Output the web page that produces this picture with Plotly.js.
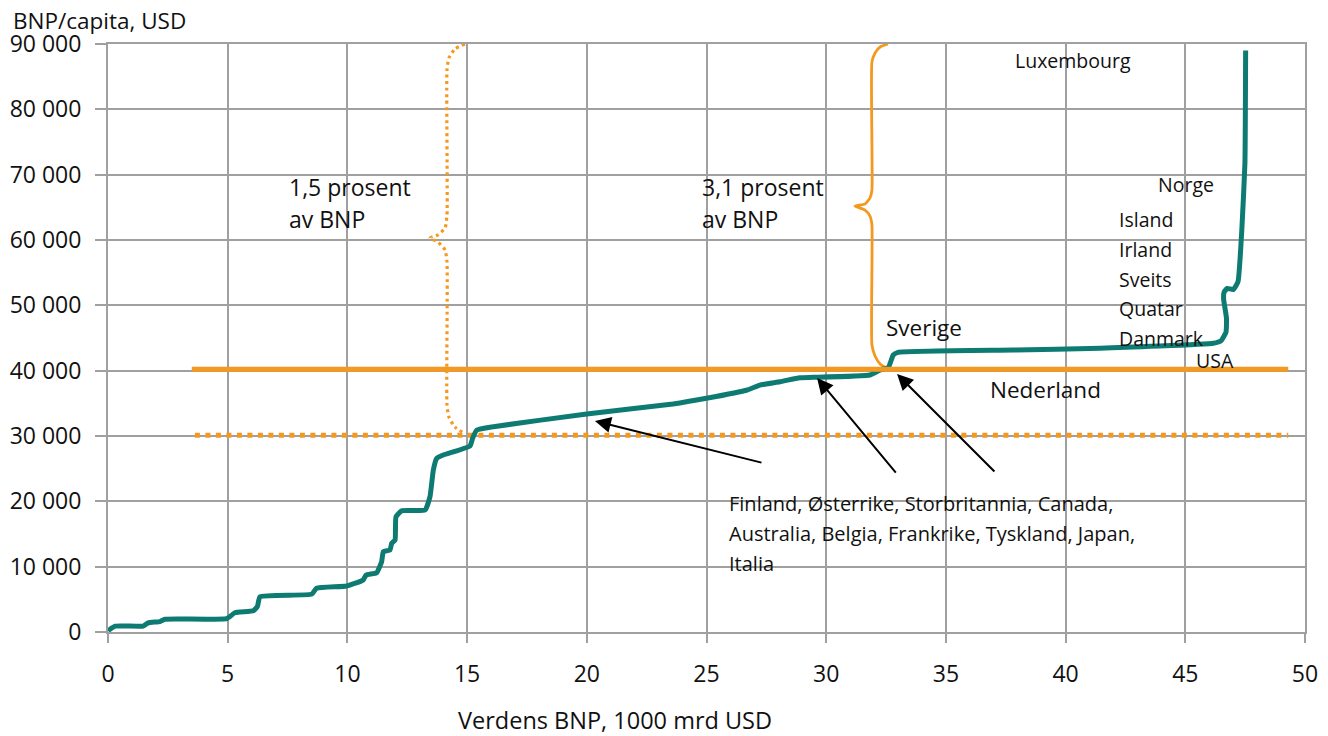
<!DOCTYPE html>
<html>
<head>
<meta charset="utf-8">
<script src="https://cdn.plot.ly/plotly-3.0.1.min.js"></script>
<style>
  html, body { margin: 0; padding: 0; background: #fff; }
  #chart { width: 1328px; height: 736px; }
</style>
</head>
<body>
<div id="chart"></div>
<script>
// Cumulative world GDP (1000 bn USD) vs GDP per capita (USD)
const gdpCumulative = [0, 0.3, 1.47, 1.68, 2.17, 2.38, 4.96, 5.3, 6.07, 6.24, 6.35, 8.51, 8.71, 9.97,
  10.66, 10.78, 11.22, 11.43, 11.5, 11.78, 11.85, 11.99, 12.03, 12.27, 13.24, 13.45, 13.59, 13.73,
  14.0, 15.12, 15.23, 15.4, 16.1, 20.0, 23.6, 25.0, 26.7, 27.23, 28.07, 28.9, 29.46, 31.83, 32.25,
  32.6, 32.8, 33.0, 37.8, 41.44, 46.17, 46.5, 46.7, 46.72, 46.6, 46.62, 46.75, 47.0, 47.2, 47.36,
  47.49, 47.52];
const gdpPerCapita = [200, 900, 900, 1400, 1600, 1950, 2050, 2950, 3250, 3900, 5400, 5800, 6700, 7050,
  7960, 8720, 9080, 10760, 12290, 12550, 13570, 14080, 17650, 18570, 18670, 20710, 24800, 26580,
  27090, 28470, 29640, 30900, 31430, 33370, 34900, 35770, 37040, 37800, 38310, 38930, 38980, 39340, 40100,
  40510, 42400, 42810, 43160, 43420, 44190, 44600, 45900, 48000, 51000, 52000, 52600, 52400, 53600, 61500,
  71700, 89000];

// Threshold lines
const thresholdSolidX = [3.5, 49.3];
const thresholdSolidY = [40200, 40200];
const thresholdDotX = [3.63, 49.3];
const thresholdDotY = [30100, 30100];

// Braces
const braceDotX = [14.91, 14.49, 14.24, 14.16, 14.16, 14.08, 13.78, 13.45, 13.78, 14.08, 14.16, 14.16, 14.24, 14.49, 14.91];
const braceDotY = [90000, 89230, 87860, 86020, 63820, 61840, 60770, 60310, 59700, 58470, 56630, 34740, 32910, 31380, 30310];
const braceSolidX = [32.58, 32.25, 32.04, 31.91, 31.91, 31.83, 31.62, 31.2, 31.62, 31.83, 31.91, 31.91, 32.04, 32.25, 32.58];
const braceSolidY = [90000, 89540, 88620, 87240, 67650, 66430, 65510, 65200, 64590, 63670, 62300, 43930, 42240, 41020, 40250];

// Ticks
const xTickVals = [0, 5, 10, 15, 20, 25, 30, 35, 40, 45, 50];
const xTickLabels = ['0', '5', '10', '15', '20', '25', '30', '35', '40', '45', '50'];
const yTickVals = [0, 10000, 20000, 30000, 40000, 50000, 60000, 70000, 80000, 90000];
const yTickLabels = ['0', '10 000', '20 000', '30 000', '40 000', '50 000', '60 000', '70 000', '80 000', '90 000'];

// Labels
const labelTexts = ['1,5 prosent', 'av BNP', '3,1 prosent', 'av BNP', 'Luxembourg', 'Norge', 'Island',
  'Irland', 'Sveits', 'Quatar', 'Danmark', 'USA', 'Sverige', 'Nederland',
  'Finland, Østerrike, Storbritannia, Canada,', 'Australia, Belgia, Frankrike, Tyskland, Japan,', 'Italia'];
const labelX = [7.56, 7.56, 24.81, 24.81, 37.89, 43.86, 42.23, 42.23, 42.23, 42.23, 42.23, 45.45, 32.5, 36.84,
  25.94, 25.94, 25.94];
const labelY = [68110, 63210, 68110, 63210, 87400, 68420, 63210, 58620, 54030, 49590, 45000, 41630, 46680, 37190,
  19740, 15150, 10560];
const labelSize = [23, 23, 23, 23, 19.5, 19.5, 19.5, 19.5, 19.5, 19.5, 19.5, 19.5, 22.5, 22.5, 20, 20, 20];

// Arrows: head (x,y), tail (ax,ay)
const arrowHeadX = [20.34, 29.62, 32.96];
const arrowHeadY = [32300, 38880, 39490];
const arrowTailX = [27.36, 32.96, 37.09];
const arrowTailY = [25870, 24180, 24340];

const FONT = 'Open Sans, Noto Sans, sans-serif';
const TEAL = '#0e7b73';
const ORANGE = '#f4991f';
const GRID = '#a0a0a0';

const traces = [
  {x: thresholdDotX, y: thresholdDotY, mode: 'lines', line: {color: ORANGE, width: 5, dash: '5px,5.5px'}, hoverinfo: 'skip'},
  {x: braceDotX, y: braceDotY, mode: 'lines', line: {color: ORANGE, width: 3.2, dash: '3px,3.5px', shape: 'spline', smoothing: 0.5}, hoverinfo: 'skip'},
  {x: braceSolidX, y: braceSolidY, mode: 'lines', line: {color: ORANGE, width: 2.8, shape: 'spline', smoothing: 0.5}, hoverinfo: 'skip'},
  {x: gdpCumulative, y: gdpPerCapita, mode: 'lines', line: {color: TEAL, width: 5, shape: 'spline', smoothing: 0.4}},
  {x: thresholdSolidX, y: thresholdSolidY, mode: 'lines', line: {color: ORANGE, width: 5}, hoverinfo: 'skip'}
];

const annotations = [];
for (let i = 0; i < labelTexts.length; i++) {
  annotations.push({x: labelX[i], y: labelY[i], xref: 'x', yref: 'y', text: labelTexts[i], showarrow: false,
    xanchor: 'left', yanchor: 'middle', borderpad: 0, borderwidth: 0,
    font: {family: FONT, size: labelSize[i], color: '#111'}});
}
for (let i = 0; i < arrowHeadX.length; i++) {
  annotations.push({x: arrowHeadX[i], y: arrowHeadY[i], ax: arrowTailX[i], ay: arrowTailY[i], xref: 'x', yref: 'y',
    axref: 'x', ayref: 'y', text: '', showarrow: true, arrowhead: 2, arrowsize: 1.6, arrowwidth: 2, arrowcolor: '#000'});
}
annotations.push({xref: 'paper', yref: 'paper', x: -0.0802, y: 1.0408, xanchor: 'left', yanchor: 'middle',
  borderpad: 0, text: 'BNP/capita, USD', showarrow: false, font: {family: FONT, size: 22.5, color: '#111'}});
annotations.push({xref: 'paper', yref: 'paper', x: 0.4236, y: -0.1497, xanchor: 'center', yanchor: 'middle',
  text: 'Verdens BNP, 1000 mrd USD', showarrow: false, font: {family: FONT, size: 23.5, color: '#111'}});

const layout = {
  width: 1328, height: 736,
  margin: {l: 108, r: 23, t: 44, b: 104},
  paper_bgcolor: '#fff', plot_bgcolor: '#fff',
  showlegend: false,
  font: {family: FONT, size: 23, color: '#111'},
  xaxis: {range: [0, 50], tickvals: xTickVals, ticktext: xTickLabels, showgrid: true, gridcolor: GRID, gridwidth: 2,
    zeroline: false, showline: true, linecolor: GRID, linewidth: 2, mirror: true, ticks: 'outside', ticklen: 9,
    tickcolor: GRID, tickwidth: 2, ticklabelstandoff: 11, tickfont: {family: FONT, size: 23, color: '#111'}},
  yaxis: {range: [0, 90000], tickvals: yTickVals, ticktext: yTickLabels, showgrid: true, gridcolor: GRID, gridwidth: 2,
    zeroline: false, showline: true, linecolor: GRID, linewidth: 2, mirror: true, ticks: 'outside', ticklen: 11,
    tickcolor: GRID, tickwidth: 2, ticklabelstandoff: 9, tickfont: {family: FONT, size: 23, color: '#111'}},
  annotations: annotations
};

Plotly.newPlot('chart', traces, layout, {displayModeBar: false, staticPlot: true});
</script>
</body>
</html>
